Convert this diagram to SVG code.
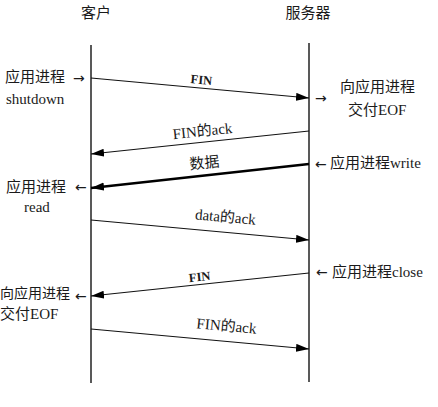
<svg xmlns="http://www.w3.org/2000/svg" width="438" height="407" viewBox="0 0 438 407">
<style>
text{font-family:"Liberation Serif","Noto Sans CJK SC",serif;font-size:15px;fill:#1a1a1a}
.m{text-anchor:middle}
.b{font-weight:bold;font-size:12.5px}
.ar{font-family:"DejaVu Sans",sans-serif;font-size:14px}
.life{stroke:#222;stroke-width:1.5;fill:none}
.msg{stroke:#111;stroke-width:1.1;fill:none}
.thick{stroke:#000;stroke-width:2.6;fill:none}
</style>
<defs>
<marker id="ah" markerUnits="userSpaceOnUse" markerWidth="14" markerHeight="10" refX="13" refY="4" orient="auto">
<path d="M0,0 L13,4 L0,8 Z" fill="#000"/>
</marker>
</defs>
<g id="client">
<text class="m" x="96" y="18">客户</text>
<line class="life" x1="91" y1="45" x2="91" y2="383"/>
</g>
<g id="server">
<text class="m" x="308" y="18">服务器</text>
<line class="life" x1="309" y1="43" x2="309" y2="382"/>
</g>
<g id="connectors">
<line class="msg" x1="91" y1="78" x2="309" y2="98" marker-end="url(#ah)"/>
<line class="msg" x1="309" y1="131" x2="91" y2="154" marker-end="url(#ah)"/>
<line class="thick" x1="309" y1="164" x2="91" y2="188" marker-end="url(#ah)"/>
<line class="msg" x1="91" y1="220" x2="309" y2="240" marker-end="url(#ah)"/>
<line class="msg" x1="309" y1="273" x2="91" y2="296" marker-end="url(#ah)"/>
<line class="msg" x1="91" y1="329" x2="309" y2="349" marker-end="url(#ah)"/>
</g>
<g id="msg-labels">
<text class="m b" x="201" y="84" transform="rotate(5.2 201 84)">FIN</text>
<text class="m" x="203" y="136" transform="rotate(-6 203 136)">FIN的ack</text>
<text class="m" x="205" y="168" transform="rotate(-6 205 168)">数据</text>
<text class="m" x="225" y="222" transform="rotate(5.2 225 222)">data的ack</text>
<text class="m b" x="200" y="281" transform="rotate(-6 200 281)">FIN</text>
<text class="m" x="226" y="331" transform="rotate(5.2 226 331)">FIN的ack</text>
</g>
<g id="left-notes">
<text x="5" y="82">应用进程</text>
<text class="ar" x="73" y="83">→</text>
<text x="6" y="104">shutdown</text>
<text x="6" y="192">应用进程</text>
<text class="ar" x="75" y="192">←</text>
<text x="24" y="212">read</text>
<text x="0" y="298" style="font-size:14px">向应用进程</text>
<text class="ar" x="75" y="301">←</text>
<text x="0" y="319">交付EOF</text>
</g>
<g id="right-notes">
<text class="ar" x="315" y="103">→</text>
<text x="340" y="92">向应用进程</text>
<text x="348" y="115">交付EOF</text>
<text class="ar" x="315" y="169">←</text>
<text x="330" y="168">应用进程write</text>
<text class="ar" x="316" y="277">←</text>
<text x="332" y="277">应用进程close</text>
</g>
</svg>
